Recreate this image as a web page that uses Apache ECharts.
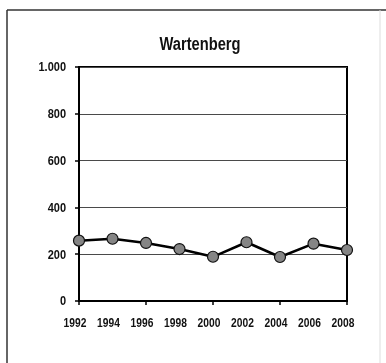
<!DOCTYPE html>
<html>
<head>
<meta charset="utf-8">
<script src="https://cdn.jsdelivr.net/npm/echarts@6/dist/echarts.min.js"></script>
<style>
html,body{margin:0;padding:0;background:#fff;}
#c{width:386px;height:363px;}
</style>
</head>
<body>
<div id="c"></div>
<script>
var title = "Wartenberg";
var years = ["1992","1994","1996","1998","2000","2002","2004","2006","2008"];
var values = [258, 266, 248, 222, 189, 251, 188, 245, 218];
var yTicks = [0, 200, 400, 600, 800, 1000];
var yTickLabels = ["0", "200", "400", "600", "800", "1.000"];

var chart = echarts.init(document.getElementById('c'), null, {renderer: 'canvas'});
var fontFam = '"Liberation Sans", Arial, sans-serif';
var SX = 0.82;

chart.setOption({
  backgroundColor: '#fff',
  animation: false,
  grid: {
    left: 79, right: 39, top: 67, bottom: 62,
    show: true, borderColor: '#000', borderWidth: 2, backgroundColor: 'transparent'
  },
  xAxis: {
    type: 'category',
    data: years,
    boundaryGap: false,
    axisLine: {lineStyle: {color: '#000', width: 2}},
    axisTick: {show: true, length: 4, inside: false, lineStyle: {color: '#000', width: 1.5}},
    axisLabel: {show: false},
    splitLine: {show: false}
  },
  yAxis: {
    type: 'value',
    min: 0, max: 1000, interval: 200,
    axisLine: {show: true, lineStyle: {color: '#000', width: 2}},
    axisTick: {show: true, length: 4, lineStyle: {color: '#000', width: 1.5}},
    axisLabel: {show: false},
    splitLine: {show: true, lineStyle: {color: '#4a4a4a', width: 1}}
  },
  series: [{
    type: 'line',
    data: values,
    symbol: 'circle',
    symbolSize: 11,
    lineStyle: {color: '#000', width: 2.5},
    itemStyle: {color: '#858585', borderColor: '#111', borderWidth: 1.2},
    z: 5
  }]
});

var g = [
  {type: 'line', shape: {x1: 7, y1: 10, x2: 386, y2: 10}, style: {stroke: '#333', lineWidth: 1.5}},
  {type: 'line', shape: {x1: 7, y1: 10, x2: 7, y2: 363}, style: {stroke: '#333', lineWidth: 1.5}},
  {type: 'line', shape: {x1: 380, y1: 10, x2: 380, y2: 363}, style: {stroke: '#ddd', lineWidth: 1}}
];
function txt(str, x, y, align, size, sx) {
  return {
    type: 'text', x: x, y: y, scaleX: sx, z: 10,
    style: {
      text: str, fontFamily: fontFam, fontWeight: 'bold', fontSize: size,
      fill: '#111', align: align, verticalAlign: 'middle'
    }
  };
}
var x0 = chart.convertToPixel({xAxisIndex: 0}, 0);
var xN = chart.convertToPixel({xAxisIndex: 0}, years.length - 1);
var yZero = chart.convertToPixel({yAxisIndex: 0}, 0);
var yTop = chart.convertToPixel({yAxisIndex: 0}, 1000);
g.push(txt(title, (x0 + xN) / 2 - 13, yTop - 22, 'center', 17.5, 0.84));
years.forEach(function (yr, i) {
  var px = chart.convertToPixel({xAxisIndex: 0}, i);
  g.push(txt(yr, px - 4, yZero + 23, 'center', 12.5, SX));
});
yTicks.forEach(function (v, i) {
  var py = chart.convertToPixel({yAxisIndex: 0}, v);
  g.push(txt(yTickLabels[i], x0 - 13, py + 1, 'right', 12.5, 0.88));
});
chart.setOption({graphic: g});
</script>
</body>
</html>
